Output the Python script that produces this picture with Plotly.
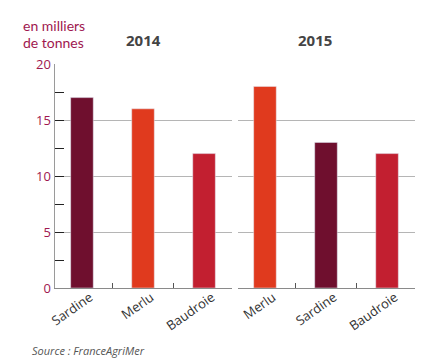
import plotly.graph_objects as go

cats_2014 = ["Sardine", "Merlu", "Baudroie"]
vals_2014 = [17, 16, 12]
cats_2015 = ["Merlu", "Sardine", "Baudroie"]
vals_2015 = [18, 13, 12]
y_ticks = [0, 5, 10, 15, 20]
colors = {"Sardine": "#6F0F2E", "Merlu": "#E03A1E", "Baudroie": "#C21F30"}

W, H = 429, 363
fig = go.Figure()
fig.add_trace(go.Bar(x=cats_2014, y=vals_2014, marker_color=[colors[c] for c in cats_2014],
                     width=0.37, xaxis="x", yaxis="y", showlegend=False, hoverinfo="skip"))
fig.add_trace(go.Bar(x=cats_2015, y=vals_2015, marker_color=[colors[c] for c in cats_2015],
                     width=0.37, xaxis="x2", yaxis="y2", showlegend=False, hoverinfo="skip"))

ydom = [(H - 288) / H, (H - 64) / H]
xcommon = dict(type="category", range=[-0.45, 2.45], showline=True, linecolor="#8a8a8a", linewidth=1,
               ticks="inside", tickson="boundaries", ticklen=5, tickcolor="#555",
               tickangle=-35, tickfont=dict(family="Open Sans", size=13, color="#333"),
               ticklabelshift=8, ticklabelstandoff=-4,
               showgrid=False, zeroline=False, automargin=False)
fig.update_layout(
    width=W, height=H, margin=dict(l=0, r=0, t=0, b=0, autoexpand=False),
    plot_bgcolor="white", paper_bgcolor="white", bargap=0.6,
    xaxis=dict(domain=[54.5 / W, 231.5 / W], anchor="y", **xcommon),
    xaxis2=dict(domain=[237.5 / W, 414.5 / W], anchor="y2", **xcommon),
    yaxis=dict(domain=ydom, range=[0, 20], tickvals=y_ticks, showline=True, linecolor="#9a9a9a",
               ticks="inside", ticklen=9, tickcolor="#222", showgrid=True, gridcolor="#b5b5b5",
               gridwidth=1, zeroline=False, automargin=False,
               tickfont=dict(family="Open Sans", size=13, color="#A0174F"),
               minor=dict(dtick=2.5, tick0=0, ticks="inside", ticklen=9, tickcolor="#222", showgrid=False)),
    yaxis2=dict(domain=ydom, range=[0, 20], anchor="x2", tickvals=y_ticks, showticklabels=False,
                showline=False, ticks="", showgrid=True, gridcolor="#b5b5b5", gridwidth=1,
                zeroline=False, automargin=False),
    annotations=[
        dict(text="en milliers", x=21 / W, y=1 - 25.5 / H, xref="paper", yref="paper",
             xanchor="left", yanchor="middle", showarrow=False,
             font=dict(family="Lato", size=14, color="#A0174F")),
        dict(text="de tonnes", x=21 / W, y=1 - 42.5 / H, xref="paper", yref="paper",
             xanchor="left", yanchor="middle", showarrow=False,
             font=dict(family="Lato", size=14, color="#A0174F")),
        dict(text="<b>2014</b>", x=143 / W, y=1 - 40 / H, xref="paper", yref="paper",
             xanchor="center", yanchor="middle", showarrow=False,
             font=dict(family="Open Sans", size=15, color="#444")),
        dict(text="<b>2015</b>", x=315 / W, y=1 - 40 / H, xref="paper", yref="paper",
             xanchor="center", yanchor="middle", showarrow=False,
             font=dict(family="Open Sans", size=15, color="#444")),
        dict(text="<i>Source : FranceAgriMer</i>", x=30 / W, y=1 - 350 / H, xref="paper", yref="paper",
             xanchor="left", yanchor="middle", showarrow=False,
             font=dict(family="Open Sans", size=11, color="#555")),
    ],
)
fig.write_html("out.html", config={"displayModeBar": False},
               post_script="document.body.style.margin='0';document.body.style.overflow='hidden';")
